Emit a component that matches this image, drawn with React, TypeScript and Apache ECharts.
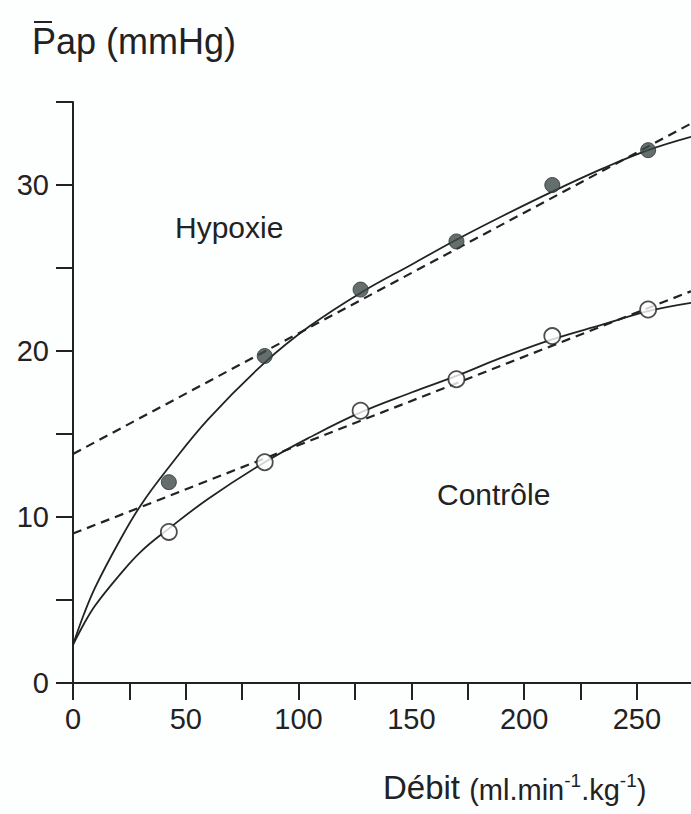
import React, { useEffect, useRef } from "react";
import * as echarts from "echarts";

// Measured points (débit, Pap)
const flowPoints = [42.5, 85, 127.5, 170, 212.5, 255];
const hypoxiePoints = [12.1, 19.7, 23.7, 26.6, 30.0, 32.1];
const controlePoints = [9.1, 13.3, 16.4, 18.3, 20.9, 22.5];

// Fitted curves (solid)
const curveFlow = [0, 5, 10, 20, 30, 42.5, 60, 85, 105, 127.5, 150, 170, 190, 212.5, 235, 255, 274];
const hypoxieCurve = [2.3, 4.2, 5.8, 8.4, 10.7, 13.0, 15.9, 19.3, 21.5, 23.5, 25.2, 26.7, 28.1, 29.6, 31.0, 32.1, 32.9];
const controleCurve = [2.3, 3.6, 4.7, 6.4, 7.9, 9.3, 11.1, 13.3, 14.8, 16.3, 17.5, 18.5, 19.6, 20.7, 21.6, 22.4, 22.9];

// Linear regressions (dashed)
const fitFlow = [0, 274];
const hypoxieFit = [13.8, 33.7];
const controleFit = [9.0, 23.6];

// Tick labels
const xTickLabels = [0, 50, 100, 150, 200, 250];
const yTickLabels = [0, 10, 20, 30];

const FONT = "'Liberation Sans', Arial, Helvetica, sans-serif";
const INK = "#222222";

const pairs = (xs: number[], ys: number[]) => xs.map((x, i) => [x, ys[i]]);

export default function App() {
  const ref = useRef<HTMLDivElement>(null);

  useEffect(() => {
    if (!ref.current) return;
    const chart = echarts.init(ref.current, null, { renderer: "svg" });
    const option: any = {
      animation: false,
      backgroundColor: "#fdfefe",
      grid: { left: 73, right: 0, top: 102, bottom: 131, containLabel: false },
      xAxis: {
        type: "value",
        min: 0,
        max: 274,
        interval: 25,
        axisLine: { show: true, lineStyle: { color: INK, width: 2 } },
        axisTick: { show: true, inside: false, length: 17, lineStyle: { color: INK, width: 2 } },
        axisLabel: {
          margin: 21,
          fontSize: 29,
          color: INK,
          fontFamily: FONT,
          showMaxLabel: false,
          formatter: (v: number) => (xTickLabels.includes(v) ? String(v) : ""),
        },
        splitLine: { show: false },
      },
      yAxis: {
        type: "value",
        min: 0,
        max: 35,
        interval: 5,
        axisLine: { show: true, lineStyle: { color: INK, width: 2 } },
        axisTick: { show: true, inside: false, length: 17, lineStyle: { color: INK, width: 2 } },
        axisLabel: {
          margin: 24,
          fontSize: 29,
          color: INK,
          fontFamily: FONT,
          formatter: (v: number) => (yTickLabels.includes(v) ? String(v) : ""),
        },
        splitLine: { show: false },
      },
      series: [
        {
          type: "line",
          data: pairs(fitFlow, hypoxieFit),
          symbol: "none",
          lineStyle: { color: INK, width: 2.2, type: [9, 6] },
          z: 2,
        },
        {
          type: "line",
          data: pairs(fitFlow, controleFit),
          symbol: "none",
          lineStyle: { color: INK, width: 2.2, type: [9, 6] },
          z: 2,
        },
        {
          type: "line",
          data: pairs(curveFlow, hypoxieCurve),
          symbol: "none",
          smooth: 0.4,
          lineStyle: { color: INK, width: 1.8 },
          z: 3,
        },
        {
          type: "line",
          data: pairs(curveFlow, controleCurve),
          symbol: "none",
          smooth: 0.4,
          lineStyle: { color: INK, width: 1.8 },
          z: 3,
        },
        {
          type: "scatter",
          data: pairs(flowPoints, hypoxiePoints),
          symbol: "circle",
          symbolSize: 15,
          itemStyle: { color: "#3d4a47", borderColor: "#2a3230", borderWidth: 1 },
          z: 5,
        },
        {
          type: "scatter",
          data: pairs(flowPoints, controlePoints),
          symbol: "circle",
          symbolSize: 16,
          itemStyle: { color: "#ffffff", borderColor: INK, borderWidth: 1.8 },
          z: 5,
        },
      ],
      graphic: [
        {
          type: "text",
          left: 32,
          top: 23,
          style: { text: "Pap (mmHg)", fontSize: 36, fill: INK, fontFamily: FONT },
        },
        {
          type: "rect",
          shape: { x: 34, y: 21, width: 18, height: 2 },
          style: { fill: INK },
        },
        {
          type: "text",
          left: 175,
          top: 212,
          style: { text: "Hypoxie", fontSize: 30, fill: INK, fontFamily: FONT },
        },
        {
          type: "text",
          left: 437,
          top: 479,
          style: { text: "Contrôle", fontSize: 30, fill: INK, fontFamily: FONT },
        },
        {
          type: "text",
          left: 383,
          top: 764,
          style: {
            text: "{a|Débit }{b|(ml.min}{s|-1}{b|.kg}{s|-1}{b|)}",
            fontFamily: FONT,
            fill: INK,
            rich: {
              a: { fontSize: 33, lineHeight: 40, verticalAlign: "bottom", fontFamily: FONT, color: INK },
              b: { fontSize: 29, lineHeight: 40, verticalAlign: "bottom", fontFamily: FONT, color: INK },
              s: { fontSize: 19, lineHeight: 19, verticalAlign: "top", padding: [7, 0, 0, 0], fontFamily: FONT, color: INK },
            },
          },
        },
      ],
    };
    chart.setOption(option);
    return () => chart.dispose();
  }, []);

  return (
    <div
      ref={ref}
      style={{ position: "absolute", left: 0, top: 0, width: 691, height: 814 }}
    />
  );
}
